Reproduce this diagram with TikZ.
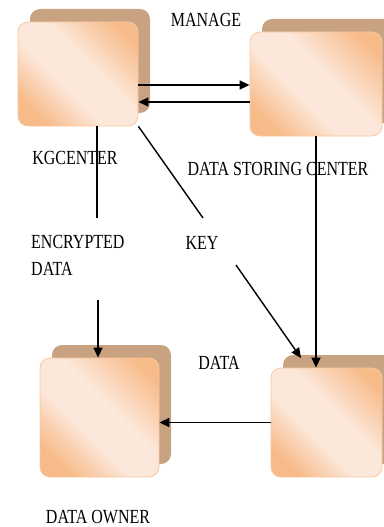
\documentclass[tikz,border=0pt]{standalone}
\usepackage{fontspec}
\setmainfont[FakeStretch=0.8]{Liberation Serif}
\usetikzlibrary{positioning,shadows,arrows.meta}
\definecolor{peachdark}{HTML}{F7BB89}
\definecolor{peachlight}{HTML}{FCE8DB}
\definecolor{peachline}{HTML}{F9C7A0}
\definecolor{shadowc}{HTML}{C9A281}
\pgfdeclarehorizontalshading{peachshade}{100bp}{color(0bp)=(peachdark); color(24bp)=(peachdark); color(42bp)=(peachlight); color(56bp)=(peachlight); color(78bp)=(peachdark); color(100bp)=(peachdark)}
\tikzset{
  pad/.style={rectangle,rounded corners=10pt,draw=peachline,line width=0.8pt,
    shading=peachshade,shading angle=45,
    drop shadow={shadow xshift=12pt,shadow yshift=13pt,fill=shadowc,opacity=1}},
  lbl/.style={font=\fontsize{20pt}{27pt}\selectfont,inner sep=0pt},
  flow/.style={line width=1.4pt,-{Triangle[length=10pt,width=9pt]}},
  plain/.style={line width=1.4pt}
}
\begin{document}
\begin{tikzpicture}[x=1pt,y=-1pt]
  \useasboundingbox (0,0) rectangle (383,527);
  % the four boxes
  \node[pad,minimum width=120pt,minimum height=104pt] (kgc) at (78,74) {};
  \node[pad,minimum width=132pt,minimum height=104pt] (dsc) at (316,84) {};
  \node[pad,minimum width=119pt,minimum height=119pt] (own) at (99.5,417.5) {};
  \node[pad,minimum width=111pt,minimum height=109pt] (usr) at (326.5,422.5) {};
  % labels
  \node[lbl] (manage) at (206,20) {MANAGE};
  \node[lbl] (kgclbl) at (75,158) {KGCENTER};
  \node[lbl] (dsclbl) at (278,169) {DATA STORING CENTER};
  \node[lbl,align=left,anchor=west] (enc) at (31,255.5) {ENCRYPTED\\DATA};
  \node[lbl] (key) at (202,243) {KEY};
  \node[lbl] (data) at (219,363) {DATA};
  \node[lbl] (ownlbl) at (98,517) {DATA OWNER};
  % connectors
  \coordinate (m1) at ([yshift=-11pt]kgc.east);
  \coordinate (m2) at ([yshift=-28pt]kgc.east);
  \draw[flow] (m1) -- (m1 -| dsc.west);
  \draw[flow] (m2 -| dsc.west) -- (m2);
  \coordinate (e1) at (97,218);
  \coordinate (e2) at (98,300);
  \draw[plain] (kgc.south -| e1) -- (e1);
  \draw[flow] (e2) -- (e2 |- own.north);
  \coordinate (k1) at (203,218);
  \coordinate (k2) at (236,265);
  \coordinate (k3) at (301,358);
  \draw[plain] (kgc.south east) -- (k1);
  \draw[flow] (k2) -- (k3);
  \draw[flow] (dsc.south) -- (dsc.south |- usr.north);
  \draw[flow] (usr.west) -- (usr.west -| own.east);
\end{tikzpicture}
\end{document}
